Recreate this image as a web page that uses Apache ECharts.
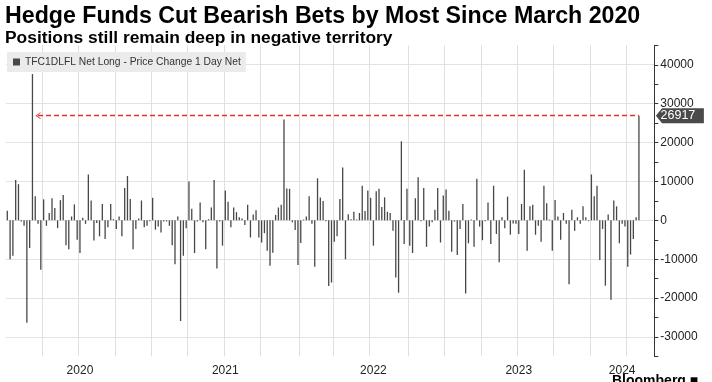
<!DOCTYPE html>
<html><head><meta charset="utf-8">
<script src="https://cdn.jsdelivr.net/npm/echarts/dist/echarts.min.js"></script>
<style>html,body{margin:0;padding:0;background:#fff}#c{width:712px;height:382px}</style>
</head><body><div id="c"></div>
<script>
const titleText = 'Hedge Funds Cut Bearish Bets by Most Since March 2020';
const subtitleText = 'Positions still remain deep in negative territory';
const seriesName = 'TFC1DLFL Net Long - Price Change 1 Day Net';
const startDate = '2020-01-03';
const padWeeks = 5;
const yearLabels = ['2020', '2021', '2022', '2023', '2024'];
const latestValue = 26917;
const arrowFromWeek = 11;
const values = [
  2500, -10000, -9100, 10400, 9300, -300, -1400, -26300, -7100, 37600,
  6200, -900, -12700, 5400, -1400, 1900, 5700, 3200, -2000, 5200,
  6500, -6400, -7400, 1000, 4100, -5000, -8400, 700, -900, 11800,
  5100, -5200, -700, -4100, 4200, -4800, -1800, 4200, 300, -2200,
  1000, -4100, 8300, 11400, 5500, -7400, -2200, 500, 5100, -1800,
  -1400, -200, 5800, -2400, -1600, -3100, -300, -300, -1400, -6400,
  -11300, 1000, -25900, -9100, -2000, 10000, 3000, -8400, -300, 4600,
  -500, -7400, 300, 3300, 10400, -12400, -300, -6500, 7700, 4800,
  -1800, 3300, 2100, 800, 500, -1200, 4000, -4400, 1500, 2600,
  -4400, -5700, -3300, -7800, -11700, -8300, 1400, 3300, 4000, 25900,
  8200, 8100, -500, -2500, -11500, -5800, 200, 1000, 6200, -900,
  -11900, 10800, 5900, 5000, -200, -16900, -16000, -5500, -4100, 5500,
  13600, -10000, 1600, 300, 2200, 200, 1900, 8900, 2400, 7700,
  5800, -6500, 7500, 8100, 3400, 5900, 2200, 1900, -2700, -14700,
  -18600, 20300, -6100, 8100, -6500, -8400, 5700, 11100, -200, 8300,
  -6800, -1600, -500, 2700, 8300, -5700, 6400, 7900, 2500, -8100,
  -300, -8900, -2200, 4200, -18800, -5900, 200, -6800, 10700, -1600,
  -5100, -200, 4600, -6100, 8900, -3500, -10800, 800, -2000, 6100,
  -3700, -800, -900, -3500, 4200, 13000, -7800, 3600, 4000, -3700,
  -1400, -5500, 8900, 4400, 200, -7800, 5200, 1000, -5000, 1900,
  -900, -16400, 2700, -2700, 800, -900, 3600, 800, -200, 11800,
  6200, 8900, -10200, -2200, -16800, 1500, -20400, 5100, 3600, -5900,
  -900, -1600, -11900, -8800, -4800, 800, 26917
];

const categories = [];
const t0 = Date.parse(startDate + 'T00:00:00Z');
for (let i = 0; i < values.length + padWeeks; i++) {
  categories.push(new Date(t0 + i * 7 * 86400000).toISOString().slice(0, 10));
}
function qKey(s) { return (+s.slice(0, 4)) * 4 + Math.floor((+s.slice(5, 7) - 1) / 3); }
const labelAt = {};
yearLabels.forEach(y => {
  const idx = categories.map((c, i) => c.startsWith(y) ? i : -1).filter(i => i >= 0);
  labelAt[Math.round((idx[0] + idx[idx.length - 1]) / 2)] = y;
});

const FONT = '"Liberation Sans", Arial, sans-serif';
const chart = echarts.init(document.getElementById('c'), null, { renderer: 'canvas' });
chart.setOption({
  animation: false,
  backgroundColor: '#fff',
  title: [
    { text: titleText, left: 5, top: 5, padding: 0, textStyle: { fontFamily: FONT, fontSize: 23.2, fontWeight: 'bold', color: '#000' } },
    { text: subtitleText, left: 5, top: 30, padding: 0, textStyle: { fontFamily: FONT, fontSize: 17.4, fontWeight: 'bold', color: '#000' } }
  ],
  legend: {
    left: 7, top: 52, backgroundColor: '#ebebeb', padding: [5, 5, 5, 6],
    itemWidth: 7, itemHeight: 7, icon: 'rect', itemGap: 4,
    textStyle: { fontFamily: FONT, fontSize: 10.3, color: '#333' },
    data: [seriesName]
  },
  grid: { left: 5.9, right: 57.7, top: 45.3, bottom: 25.5, containLabel: false },
  xAxis: {
    type: 'category', data: categories, boundaryGap: true,
    axisLine: { show: false }, axisTick: { show: false },
    axisLabel: {
      interval: (i) => labelAt[i] !== undefined,
      formatter: (v, i) => labelAt[i] || '',
      color: '#222', fontFamily: FONT, fontSize: 12, margin: 8
    },
    splitLine: {
      show: true,
      interval: (i) => i > 0 && qKey(categories[i]) !== qKey(categories[i - 1]),
      lineStyle: { color: '#e0e0e0', width: 1 }
    }
  },
  yAxis: {
    type: 'value', position: 'right', min: -35000, max: 45000, interval: 5000,
    axisLine: { show: true, lineStyle: { color: '#333' } },
    axisTick: { show: true, length: 4, lineStyle: { color: '#333' } },
    axisLabel: {
      formatter: v => (v % 10000 === 0 && v > -35000 && v < 45000) ? String(v) : '',
      color: '#222', fontFamily: FONT, fontSize: 12, margin: 6
    },
    splitLine: { show: true, lineStyle: { color: ['rgba(0,0,0,0)', '#e3e3e3'] } }
  },
  series: [{
    name: seriesName, type: 'bar', data: values, barWidth: 1.3,
    itemStyle: { color: '#474747' },
    markLine: {
      silent: true, symbol: ['none', 'none'], animation: false,
      lineStyle: { color: '#e0302a', type: [5, 3], width: 1.3 },
      label: { show: false },
      data: [[
        { coord: [arrowFromWeek, latestValue], symbol: 'path://M0,10 L5,0 L10,10 L8.6,10 L5,2.8 L1.4,10 Z', symbolSize: [7, 5] },
        { coord: [values.length - 1, latestValue], symbol: 'none' }
      ]]
    },
    markPoint: {
      silent: true, animation: false,
      symbol: 'path://M0,7.5 L6,0 L47,0 L47,15 L6,15 Z',
      symbolSize: [48, 15], symbolOffset: [27, 0],
      itemStyle: { color: '#4a4a4a' },
      label: { show: true, color: '#fff', fontFamily: FONT, fontSize: 12.5, offset: [-2, 0], formatter: () => String(latestValue) },
      data: [{ coord: [categories.length - 1, latestValue], value: latestValue }]
    }
  }],
  graphic: [
    { type: 'text', left: 612, top: 374, style: { text: 'Bloomberg ■', fontFamily: FONT, fontSize: 14, fontWeight: 'bold', fill: '#000' } }
  ]
});
</script>
</body></html>
